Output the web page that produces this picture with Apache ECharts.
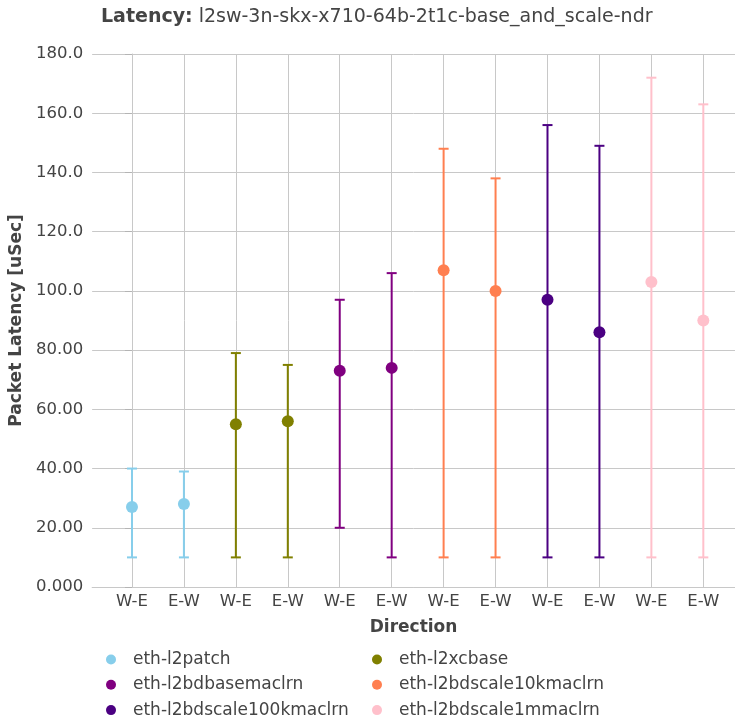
<!DOCTYPE html>
<html>
<head>
<meta charset="utf-8">
<script src="https://cdn.jsdelivr.net/npm/echarts@6/dist/echarts.min.js"></script>
<style>
html,body{margin:0;padding:0;background:#fff;}
#chart{width:735px;height:723px;}
</style>
</head>
<body>
<div id="chart"></div>
<script>
// ---- data ----
const categories = ['W-E','E-W','W-E','E-W','W-E','E-W','W-E','E-W','W-E','E-W','W-E','E-W'];
const seriesNames = ['eth-l2patch','eth-l2xcbase','eth-l2bdbasemaclrn','eth-l2bdscale10kmaclrn','eth-l2bdscale100kmaclrn','eth-l2bdscale1mmaclrn'];
const seriesColors = ['#87CEEB','#808000','#800080','#FF7F50','#4B0082','#FFC0CB'];
const yTicks = [0,20,40,60,80,100,120,140,160,180];

const l2patchAvg = [27, 28];
const l2patchMin = [10, 10];
const l2patchMax = [40, 39];

const l2xcbaseAvg = [55, 56];
const l2xcbaseMin = [10, 10];
const l2xcbaseMax = [79, 75];

const l2bdbasemaclrnAvg = [73, 74];
const l2bdbasemaclrnMin = [20, 10];
const l2bdbasemaclrnMax = [97, 106];

const l2bdscale10kAvg = [107, 100];
const l2bdscale10kMin = [10, 10];
const l2bdscale10kMax = [148, 138];

const l2bdscale100kAvg = [97, 86];
const l2bdscale100kMin = [10, 10];
const l2bdscale100kMax = [156, 149];

const l2bdscale1mAvg = [103, 90];
const l2bdscale1mMin = [10, 10];
const l2bdscale1mMax = [172, 163];

const avgs = [l2patchAvg, l2xcbaseAvg, l2bdbasemaclrnAvg, l2bdscale10kAvg, l2bdscale100kAvg, l2bdscale1mAvg];
const mins = [l2patchMin, l2xcbaseMin, l2bdbasemaclrnMin, l2bdscale10kMin, l2bdscale100kMin, l2bdscale1mMin];
const maxs = [l2patchMax, l2xcbaseMax, l2bdbasemaclrnMax, l2bdscale10kMax, l2bdscale100kMax, l2bdscale1mMax];

// ---- chart ----
const FONT = 'DejaVu Sans';
const TXT = '#444444';
const GRIDC = '#c8c8c8';

function renderErr(params, api) {
  const x = api.value(0);
  const lo = api.coord([x, api.value(1)]);
  const hi = api.coord([x, api.value(2)]);
  const color = api.visual('color');
  const cap = 5;
  const st = { stroke: color, lineWidth: 2 };
  return {
    type: 'group',
    children: [
      { type: 'line', shape: { x1: lo[0], y1: lo[1], x2: hi[0], y2: hi[1] }, style: st },
      { type: 'line', shape: { x1: lo[0]-cap, y1: lo[1], x2: lo[0]+cap, y2: lo[1] }, style: st },
      { type: 'line', shape: { x1: hi[0]-cap, y1: hi[1], x2: hi[0]+cap, y2: hi[1] }, style: st }
    ]
  };
}

const series = [];
seriesNames.forEach((name, i) => {
  const errData = [], dotData = [];
  for (let k = 0; k < 2; k++) {
    const xi = i * 2 + k;
    errData.push([xi, mins[i][k], maxs[i][k]]);
    dotData.push([xi, avgs[i][k]]);
  }
  series.push({
    name: name, type: 'scatter', data: dotData, symbol: 'circle', symbolSize: 12,
    itemStyle: { color: seriesColors[i], opacity: 1 }, z: 3
  });
  series.push({
    name: name, type: 'custom', data: errData, renderItem: renderErr,
    itemStyle: { color: seriesColors[i] }, z: 2,
    encode: { x: 0, y: [1, 2] }
  });
});

const legendCommon = {
  orient: 'vertical', icon: 'circle', itemWidth: 10, itemHeight: 10,
  itemGap: 8.3, itemStyle: { opacity: 1 },
  textStyle: { fontFamily: FONT, fontSize: 17, color: TXT, lineHeight: 17, padding: [0, 0, 0, 12] },
  top: 651, padding: 0
};

const option = {
  animation: false,
  backgroundColor: '#ffffff',
  title: {
    text: '{b|Latency:} {r|l2sw-3n-skx-x710-64b-2t1c-base_and_scale-ndr}',
    left: 101, top: 8, padding: 0,
    textStyle: {
      fontFamily: FONT, fontSize: 19, fontWeight: 'normal', color: TXT,
      rich: {
        b: { fontFamily: FONT, fontSize: 19, fontWeight: 'bold', color: TXT },
        r: { fontFamily: FONT, fontSize: 19, fontWeight: 'normal', color: TXT }
      }
    }
  },
  legend: [
    Object.assign({}, legendCommon, { left: 106, data: [seriesNames[0], seriesNames[2], seriesNames[4]] }),
    Object.assign({}, legendCommon, { left: 372, data: [seriesNames[1], seriesNames[3], seriesNames[5]] })
  ],
  grid: { left: 89, right: 0, top: 54, bottom: 136, containLabel: false },
  xAxis: {
    type: 'value', min: -0.767, max: 11.61,
    name: 'Direction', nameLocation: 'middle', nameGap: 32,
    nameTextStyle: { fontFamily: FONT, fontSize: 17, fontWeight: 'bold', color: TXT },
    axisLine: { show: true, onZero: false, lineStyle: { color: GRIDC, width: 1 } },
    axisTick: { show: false, customValues: categories.map((c, i) => i) },
    axisLabel: {
      customValues: categories.map((c, i) => i),
      formatter: v => categories[Math.round(v)] || '',
      fontFamily: FONT, fontSize: 16.5, color: TXT, margin: 6
    },
    splitLine: { show: true, lineStyle: { color: GRIDC, width: 1 } }
  },
  yAxis: {
    type: 'value', min: 0, max: 180, interval: 20,
    name: 'Packet Latency [uSec]', nameLocation: 'middle', nameGap: 55, nameRotate: 90,
    nameTextStyle: { fontFamily: FONT, fontSize: 17, fontWeight: 'bold', color: TXT },
    axisLine: { show: true, lineStyle: { color: GRIDC, width: 1 } },
    axisTick: { show: true, inside: false, length: 7, lineStyle: { color: '#b4b4b4' } },
    axisLabel: {
      formatter: v => yTicks.indexOf(v) >= 0 ? Number(v).toPrecision(4) : '',
      fontFamily: FONT, fontSize: 16.5, color: TXT, margin: 9
    },
    splitLine: { show: true, lineStyle: { color: GRIDC, width: 1 } }
  },
  series: series
};

const chart = echarts.init(document.getElementById('chart'), null, { renderer: 'canvas' });
chart.setOption(option);
</script>
</body>
</html>
